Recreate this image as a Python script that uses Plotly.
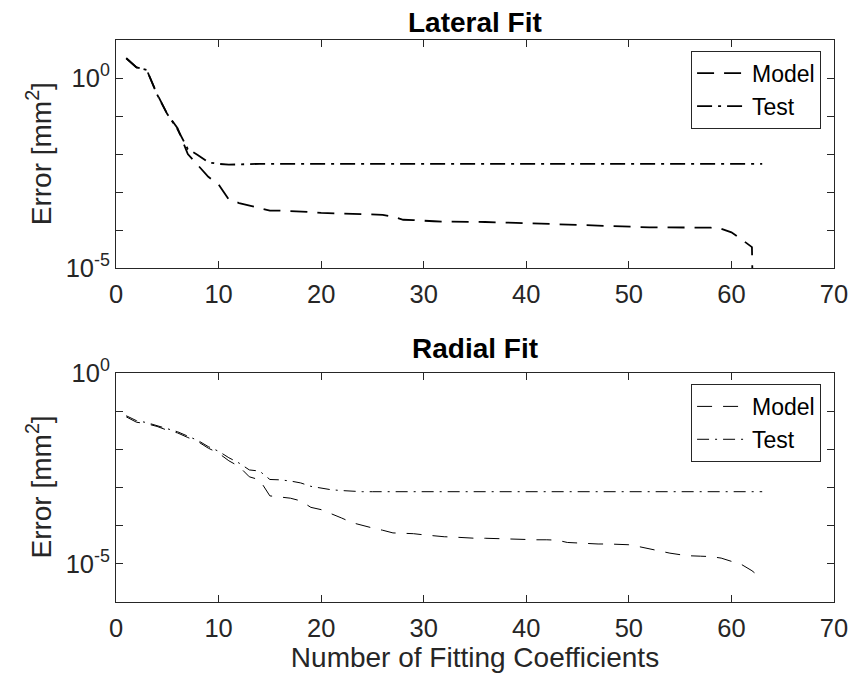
import plotly.graph_objects as go

# ---------------- data (log10 of error) ----------------
coeffs = list(range(1, 64))

lateral_model_log10 = [
    0.52, 0.28, 0.21, -0.42, -0.95, -1.32, -2.00, -2.30, -2.60, -2.80,
    -3.20, -3.29, -3.36, -3.43, -3.49, -3.49, -3.50, -3.51, -3.53, -3.55,
    -3.56, -3.57, -3.58, -3.59, -3.59, -3.60, -3.65, -3.73, -3.74, -3.76,
    -3.77, -3.78, -3.78, -3.79, -3.79, -3.79, -3.80, -3.80, -3.81, -3.82,
    -3.83, -3.84, -3.85, -3.86, -3.86, -3.87, -3.88, -3.90, -3.91, -3.91,
    -3.92, -3.93, -3.93, -3.93, -3.93, -3.93, -3.93, -3.94, -3.97, -4.06,
    -4.25, -4.45, -20.0,
]
lateral_test_log10 = [
    0.52, 0.28, 0.21, -0.43, -0.95, -1.35, -1.87, -2.03, -2.22, -2.26,
    -2.28, -2.27, -2.26, -2.26, -2.26, -2.26, -2.26, -2.26, -2.26, -2.26,
    -2.26, -2.26, -2.26, -2.26, -2.26, -2.26, -2.26, -2.26, -2.26, -2.26,
    -2.26, -2.26, -2.26, -2.26, -2.26, -2.26, -2.26, -2.26, -2.26, -2.26,
    -2.26, -2.26, -2.26, -2.26, -2.26, -2.26, -2.26, -2.26, -2.26, -2.26,
    -2.26, -2.26, -2.26, -2.26, -2.26, -2.26, -2.26, -2.26, -2.26, -2.26,
    -2.26, -2.26, -2.26,
]
radial_model_log10 = [
    -1.15, -1.29, -1.33, -1.40, -1.50, -1.57, -1.69, -1.80, -1.97, -2.10,
    -2.30, -2.45, -2.72, -2.80, -3.22, -3.25, -3.28, -3.35, -3.52, -3.58,
    -3.68, -3.80, -3.92, -4.00, -4.06, -4.12, -4.19, -4.20, -4.21, -4.24,
    -4.27, -4.29, -4.30, -4.32, -4.33, -4.33, -4.34, -4.35, -4.35, -4.36,
    -4.37, -4.37, -4.38, -4.44, -4.46, -4.47, -4.48, -4.48, -4.49, -4.50,
    -4.55, -4.61, -4.66, -4.72, -4.76, -4.79, -4.80, -4.81, -4.85, -4.93,
    -5.02, -5.18, -5.40,
]
radial_test_log10 = [
    -1.12, -1.25, -1.30, -1.37, -1.46, -1.54, -1.66, -1.77, -1.93, -2.05,
    -2.22, -2.36, -2.54, -2.57, -2.79, -2.80, -2.83, -2.88, -2.97, -3.02,
    -3.06, -3.08, -3.10, -3.11, -3.11, -3.11, -3.11, -3.11, -3.11, -3.11,
    -3.11, -3.11, -3.11, -3.11, -3.11, -3.11, -3.11, -3.11, -3.11, -3.11,
    -3.11, -3.11, -3.11, -3.11, -3.11, -3.11, -3.11, -3.11, -3.11, -3.11,
    -3.11, -3.11, -3.11, -3.11, -3.11, -3.11, -3.11, -3.11, -3.11, -3.11,
    -3.11, -3.11, -3.11,
]

x_ticks = [0, 10, 20, 30, 40, 50, 60, 70]
top_y_tickvals = [1e-5, 1e-4, 1e-3, 1e-2, 1e-1, 1e0, 1e1]
top_y_ticktext = ["10<sup>-5</sup>", "", "", "", "", "10<sup>0</sup>", ""]
bot_y_tickvals = [1e-6, 1e-5, 1e-4, 1e-3, 1e-2, 1e-1, 1e0]
bot_y_ticktext = ["", "10<sup>-5</sup>", "", "", "", "", "10<sup>0</sup>"]
series_names = ["Model", "Test"]
titles = ["Lateral Fit", "Radial Fit"]
y_title = "Error [mm<sup>2</sup>]"
x_title = "Number of Fitting Coefficients"

to_val = lambda arr: [10 ** v for v in arr]

FONT = "Liberation Sans, Arial, Helvetica, sans-serif"
AX = "#262626"
TICK_SIZE = 25.5
LABEL_SIZE = 28
LEGEND_SIZE = 23

fig = go.Figure()
fig.add_trace(go.Scatter(x=coeffs, y=to_val(lateral_model_log10), mode="lines",
                         name=series_names[0], xaxis="x", yaxis="y", legend="legend",
                         line=dict(color="black", width=1.8, dash="17px,10px")))
fig.add_trace(go.Scatter(x=coeffs, y=to_val(lateral_test_log10), mode="lines",
                         name=series_names[1], xaxis="x", yaxis="y", legend="legend",
                         line=dict(color="black", width=1.8, dash="15px,6px,3px,6px")))
fig.add_trace(go.Scatter(x=coeffs, y=to_val(radial_model_log10), mode="lines",
                         name=series_names[0], xaxis="x2", yaxis="y2", legend="legend2",
                         line=dict(color="black", width=1.0, dash="15px,11px")))
fig.add_trace(go.Scatter(x=coeffs, y=to_val(radial_test_log10), mode="lines",
                         name=series_names[1], xaxis="x2", yaxis="y2", legend="legend2",
                         line=dict(color="black", width=1.0, dash="12px,6px,2px,6px")))

xcommon = dict(range=[0, 70], tickvals=x_ticks, ticks="inside", ticklen=7,
               tickcolor=AX, showline=True, linecolor=AX, linewidth=1, mirror="ticks",
               showgrid=False, zeroline=False, ticklabelstandoff=3,
               tickfont=dict(family=FONT, size=TICK_SIZE, color=AX))
ycommon = dict(type="log", ticks="inside", ticklen=7, tickcolor=AX, showline=True,
               linecolor=AX, linewidth=1, mirror="ticks", showgrid=False, zeroline=False,
               tickfont=dict(family=FONT, size=TICK_SIZE, color=AX))

# the page body has an 8px default margin, so the figure is 8px smaller on each axis
fig.update_layout(
    width=852, height=675,
    margin=dict(l=108, r=17, t=32, b=81),
    paper_bgcolor="white", plot_bgcolor="white",
    font=dict(family=FONT, size=TICK_SIZE, color=AX),
    xaxis=dict(domain=[0, 1], anchor="y", **xcommon),
    yaxis=dict(domain=[0.5943, 1], anchor="x", range=[-5, 1],
               tickvals=top_y_tickvals, ticktext=top_y_ticktext, **ycommon),
    xaxis2=dict(domain=[0, 1], anchor="y2",
                title=dict(text=x_title, font=dict(family=FONT, size=LABEL_SIZE, color=AX),
                           standoff=6),
                **xcommon),
    yaxis2=dict(domain=[0, 0.4075], anchor="x2", range=[-6, 0],
                tickvals=bot_y_tickvals, ticktext=bot_y_ticktext, **ycommon),
    legend=dict(x=0.982, y=0.981, xanchor="right", yanchor="top",
                bordercolor=AX, borderwidth=1, bgcolor="white",
                font=dict(family=FONT, size=LEGEND_SIZE, color="black"), itemwidth=50),
    legend2=dict(x=0.982, y=0.388, xanchor="right", yanchor="top",
                 bordercolor=AX, borderwidth=1, bgcolor="white",
                 font=dict(family=FONT, size=LEGEND_SIZE, color="black"), itemwidth=50),
    annotations=[
        dict(text="<b>" + titles[0] + "</b>", x=0.5, y=1.032, xref="paper", yref="paper",
             showarrow=False, font=dict(family=FONT, size=LABEL_SIZE, color="black"),
             xanchor="center", yanchor="middle"),
        dict(text="<b>" + titles[1] + "</b>", x=0.5, y=0.4502, xref="paper", yref="paper",
             showarrow=False, font=dict(family=FONT, size=LABEL_SIZE, color="black"),
             xanchor="center", yanchor="middle"),
        dict(text=y_title, x=-0.107, y=0.797, xref="paper", yref="paper", textangle=-90,
             showarrow=False, font=dict(family=FONT, size=LABEL_SIZE, color=AX),
             xanchor="center", yanchor="middle"),
        dict(text=y_title, x=-0.107, y=0.204, xref="paper", yref="paper", textangle=-90,
             showarrow=False, font=dict(family=FONT, size=LABEL_SIZE, color=AX),
             xanchor="center", yanchor="middle"),
    ],
)

fig.write_html("out.html")
